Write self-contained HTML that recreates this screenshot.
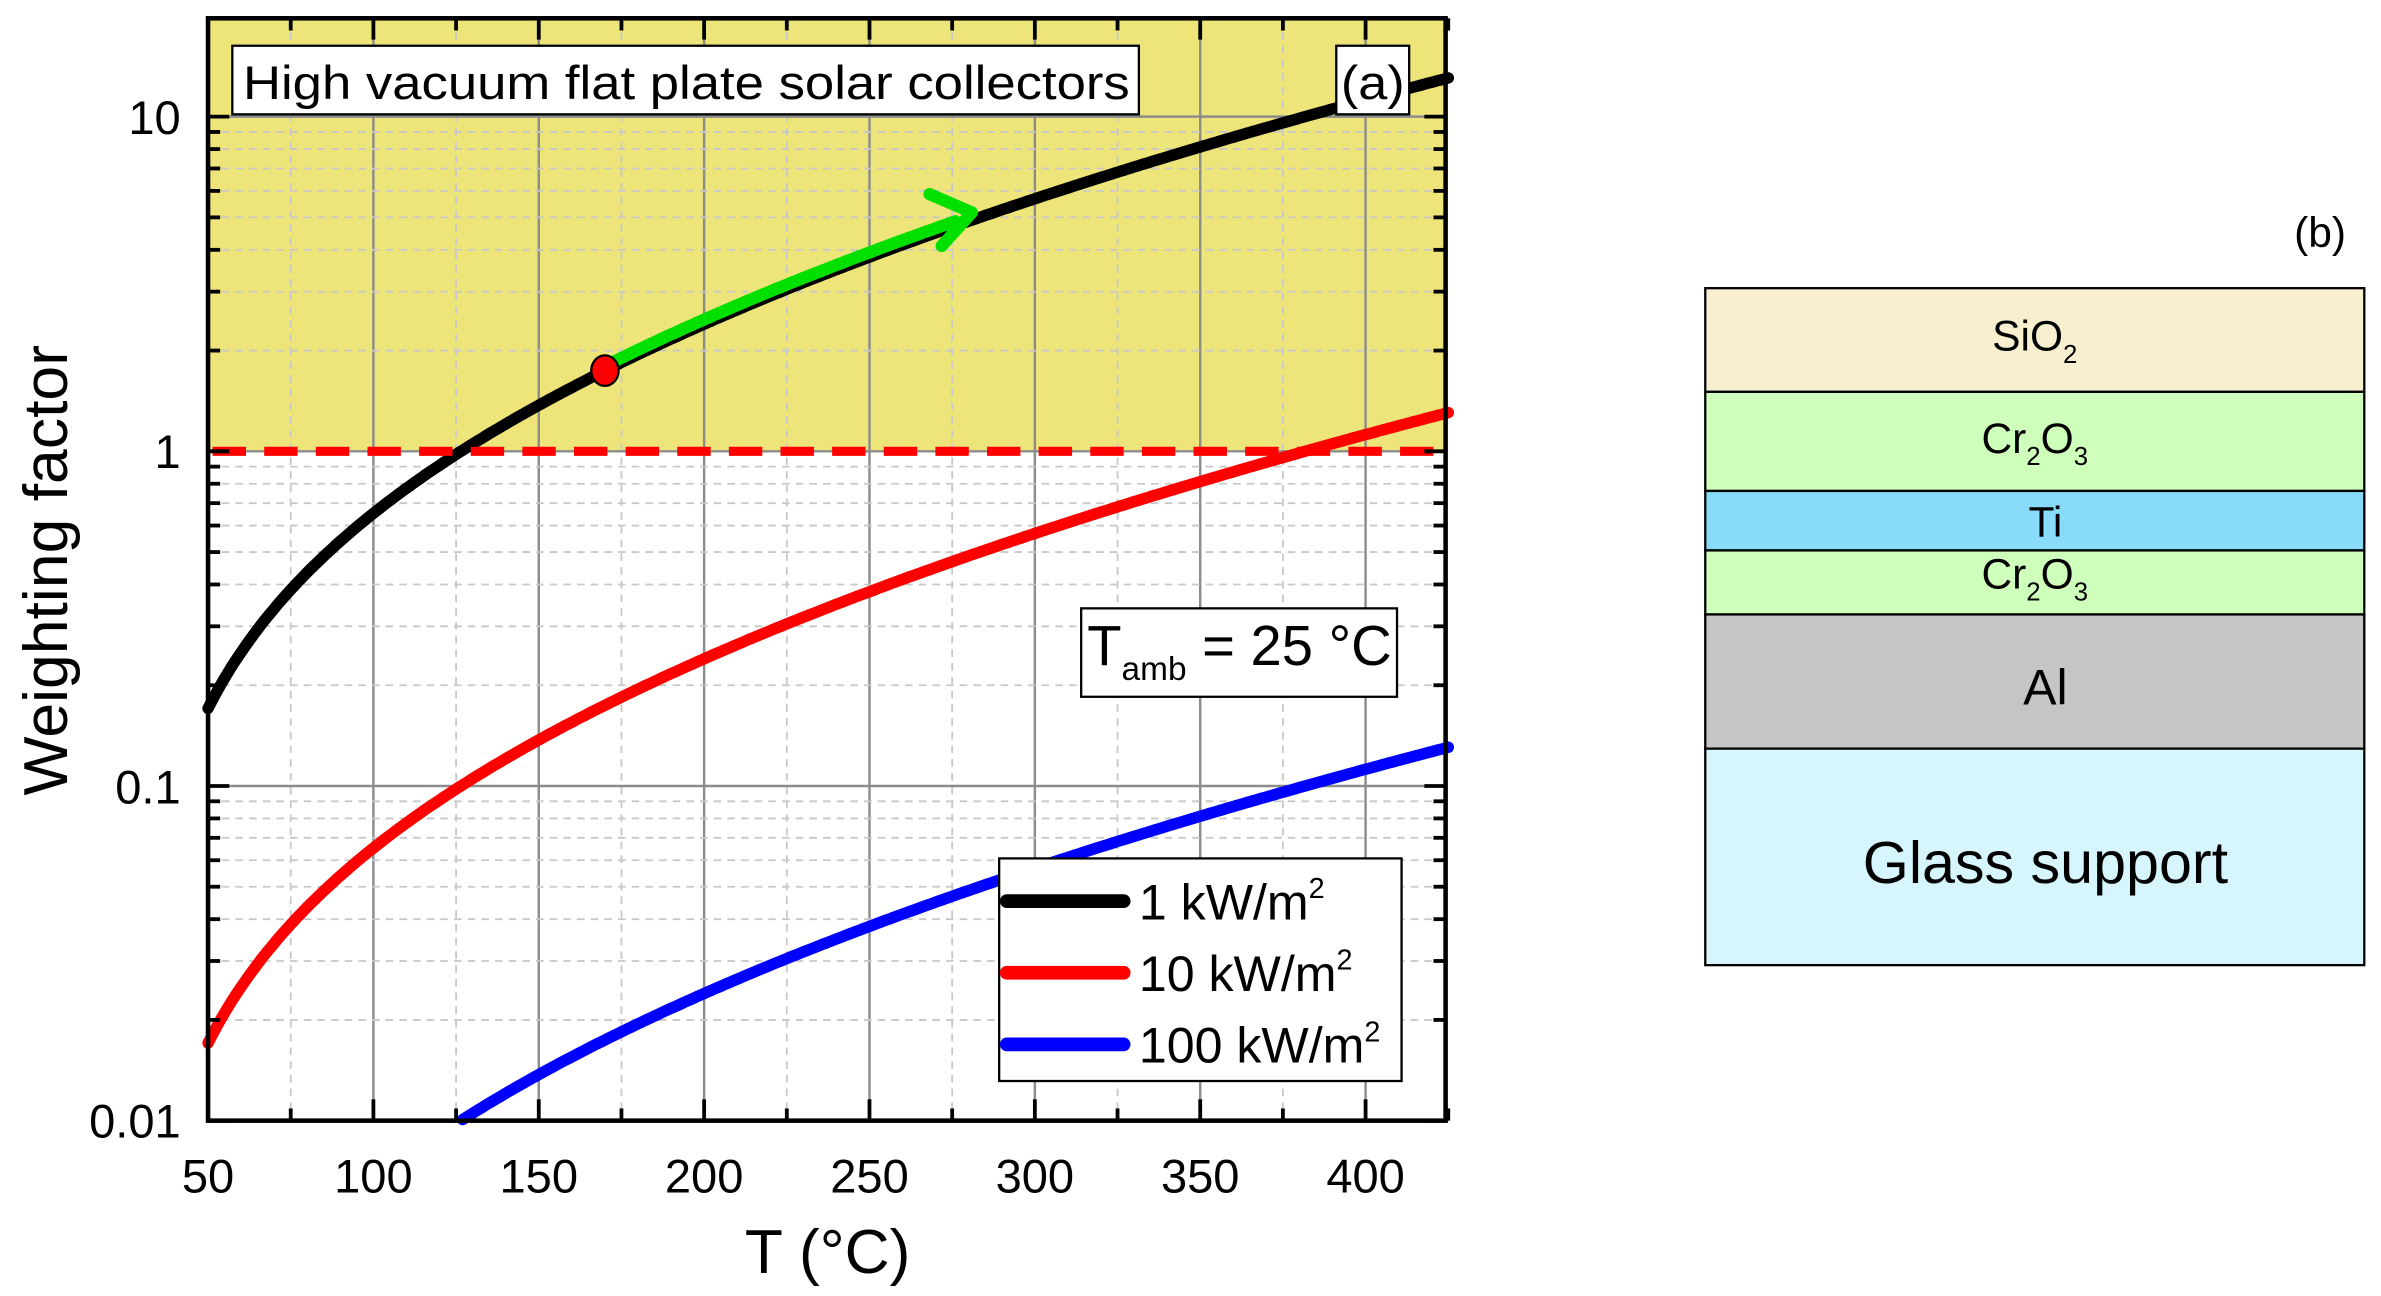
<!DOCTYPE html>
<html><head><meta charset="utf-8">
<style>
html,body{margin:0;padding:0;background:#fff;}
svg{display:block;font-family:"Liberation Sans",Arial,sans-serif;}
</style></head>
<body>
<svg id="s" width="2381" height="1296" viewBox="0 0 1568 850" preserveAspectRatio="none" xmlns="http://www.w3.org/2000/svg">
<rect x="0" y="0" width="1568" height="850" fill="#fff"/>
<rect x="137" y="12" width="815" height="284" fill="#ede57a"/>
<g id="grid"></g>
<g id="curves" fill="none" stroke-linecap="round"></g>
<line x1="140" y1="296" x2="945" y2="296" stroke="#ff0000" stroke-width="6" stroke-dasharray="22 12"/>
<g id="ticks" stroke="#000" stroke-width="2.5"></g>
<rect x="137" y="12" width="815" height="723" fill="none" stroke="#000" stroke-width="3"/>
<!-- boxes -->
<rect x="153" y="30" width="597" height="45" fill="#fff" stroke="#000" stroke-width="1.5"/>
<text x="160" y="65" font-size="31" textLength="584" lengthAdjust="spacingAndGlyphs">High vacuum flat plate solar collectors</text>
<rect x="880" y="30" width="48" height="45" fill="#fff" stroke="#000" stroke-width="1.5"/>
<text x="883" y="65" font-size="31" textLength="42" lengthAdjust="spacingAndGlyphs">(a)</text>
<rect x="712" y="399" width="208" height="58" fill="#fff" stroke="#000" stroke-width="1.5"/>
<text x="716" y="436" font-size="37">T<tspan font-size="22" dy="10">amb</tspan><tspan dy="-10"> = 25 °C</tspan></text>
<rect x="658" y="563" width="265" height="146" fill="#fff" stroke="#000" stroke-width="1.5"/>
<line x1="663" y1="591" x2="740" y2="591" stroke="#000" stroke-width="9" stroke-linecap="round"/>
<line x1="663" y1="638" x2="740" y2="638" stroke="#ff0000" stroke-width="9" stroke-linecap="round"/>
<line x1="663" y1="685" x2="740" y2="685" stroke="#0000ff" stroke-width="9" stroke-linecap="round"/>
<text x="750" y="603" font-size="33">1 kW/m<tspan font-size="19" dy="-14">2</tspan></text>
<text x="750" y="650" font-size="33">10 kW/m<tspan font-size="19" dy="-14">2</tspan></text>
<text x="750" y="697" font-size="33">100 kW/m<tspan font-size="19" dy="-14">2</tspan></text>
<!-- tick labels -->
<g font-size="31" text-anchor="middle" id="xl"></g>
<g font-size="31" text-anchor="end">
<text x="119" y="88">10</text><text x="119" y="307">1</text><text x="119" y="527">0.1</text><text x="119" y="746">0.01</text>
</g>
<text x="545" y="835" font-size="41" text-anchor="middle">T (°C)</text>
<text transform="translate(44,374) rotate(-90)" font-size="41" text-anchor="middle">Weighting factor</text>
<!-- panel b -->
<text x="1545" y="162" font-size="28" text-anchor="end">(b)</text>
<g stroke="#000" stroke-width="1.5">
<rect x="1123" y="189" width="434" height="68" fill="#f7efcf"/>
<rect x="1123" y="257" width="434" height="65" fill="#ceffbb"/>
<rect x="1123" y="322" width="434" height="39" fill="#89dbfa"/>
<rect x="1123" y="361" width="434" height="42" fill="#ceffbb"/>
<rect x="1123" y="403" width="434" height="88" fill="#c5c5c5"/>
<rect x="1123" y="491" width="434" height="142" fill="#d6f5fd"/>
</g>
<g text-anchor="middle" font-size="28">
<text x="1340" y="230">SiO<tspan font-size="17" dy="8">2</tspan></text>
<text x="1340" y="297">Cr<tspan font-size="17" dy="8">2</tspan><tspan dy="-8">O</tspan><tspan font-size="17" dy="8">3</tspan></text>
<text x="1347" y="352">Ti</text>
<text x="1340" y="386">Cr<tspan font-size="17" dy="8">2</tspan><tspan dy="-8">O</tspan><tspan font-size="17" dy="8">3</tspan></text>
<text x="1347" y="462" font-size="33">Al</text>
<text x="1347" y="579" font-size="39">Glass support</text>
</g>
<script>
(function(){
var NS="http://www.w3.org/2000/svg";
function X(t){return 137+(t-50)*108.9/50;}
function Y(v){return 296-Math.log10(v)*219.5;}
function el(p,tag,a){var e=document.createElementNS(NS,tag);for(var k in a)e.setAttribute(k,a[k]);p.appendChild(e);return e;}
var g=document.getElementById('grid'),tk=document.getElementById('ticks'),xl=document.getElementById('xl');
for(var t=75;t<425;t+=50) el(g,'line',{x1:X(t),y1:12,x2:X(t),y2:735,stroke:'#c8c8c8','stroke-width':1.2,'stroke-dasharray':'5 4'});
for(var t=100;t<425;t+=50) el(g,'line',{x1:X(t),y1:12,x2:X(t),y2:735,stroke:'#8c8c8c','stroke-width':1.6});
for(var d=-2;d<=1;d++){for(var m=2;m<=9;m++){var v=m*Math.pow(10,d);var y=Y(v);if(y<12)continue;
 el(g,'line',{x1:137,y1:y,x2:952,y2:y,stroke:'#c8c8c8','stroke-width':1.2,'stroke-dasharray':'5 4'});
 el(tk,'line',{x1:137,y1:y,x2:145,y2:y});el(tk,'line',{x1:952,y1:y,x2:944,y2:y});}}
[0.1,1,10].forEach(function(v){var y=Y(v);el(g,'line',{x1:137,y1:y,x2:952,y2:y,stroke:'#8c8c8c','stroke-width':1.6});});
[0.01,0.1,1,10].forEach(function(v){var y=Y(v);el(tk,'line',{x1:137,y1:y,x2:151,y2:y});el(tk,'line',{x1:952,y1:y,x2:938,y2:y});});
for(var t=50;t<=425;t+=25){var x=X(t),L=(t%50==0)?14:8;
 el(tk,'line',{x1:x,y1:735,x2:x,y2:735-L});el(tk,'line',{x1:x,y1:12,x2:x,y2:12+L});
 if(t%50==0){var e=el(xl,'text',{x:x,y:782});e.textContent=t;}}
var c=document.getElementById('curves');
function w(t){var T=t+273.15,a=298.15;return (Math.pow(T,4)-Math.pow(a,4))/1.76e10;}
[[1,'#000'],[0.1,'#ff0000'],[0.01,'#0000ff']].forEach(function(s){
 var d='';for(var t=50;t<=425;t+=1){var v=w(t)*s[0];var y=Y(v);if(y>735)continue;d+=(d?'L':'M')+X(t).toFixed(1)+','+y.toFixed(1);}
 el(c,'path',{d:d,stroke:s[1],'stroke-width':7.5});});
var d='';for(var t=172;t<=276;t+=1){d+=(d?'L':'M')+X(t).toFixed(1)+','+(Y(w(t))-3).toFixed(1);}
el(c,'path',{d:d,stroke:'#00e000','stroke-width':8});
var x2=X(281),y2=Y(w(281))-5;
el(c,'path',{d:'M'+(x2-28)+','+(y2-12)+'L'+x2+','+y2+'L'+(x2-20)+','+(y2+22),stroke:'#00e000','stroke-width':8,'stroke-linejoin':'round'});
el(c,'ellipse',{cx:X(170),cy:Y(w(170)),rx:9,ry:10,fill:'#ff0000',stroke:'#000','stroke-width':1.5});
})();
</script>
</svg>
</body></html>
